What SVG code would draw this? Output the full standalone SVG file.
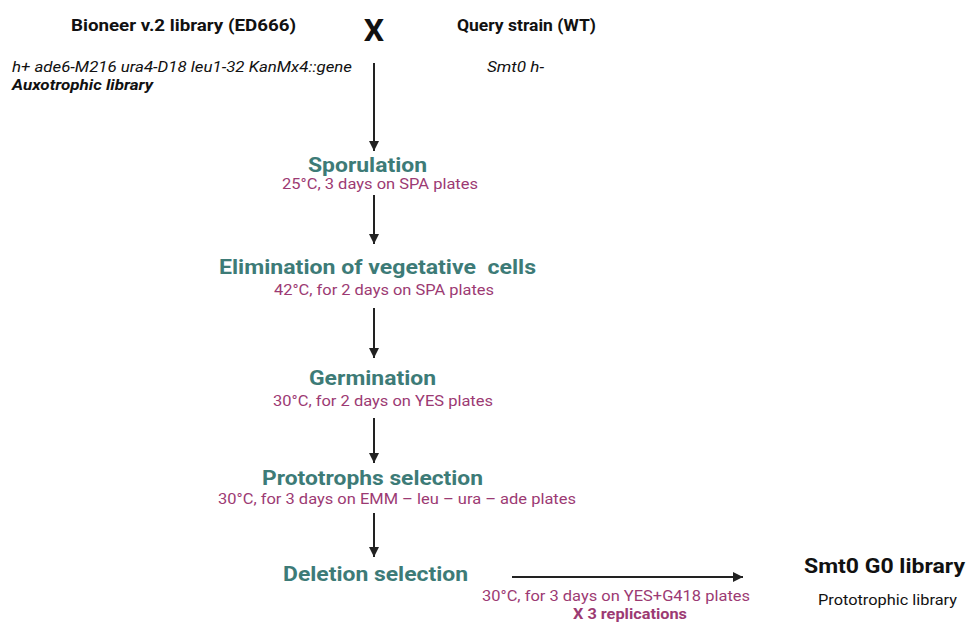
<svg xmlns="http://www.w3.org/2000/svg" width="966" height="623" viewBox="0 0 966 623">
<defs>
<marker id="ah" viewBox="0 0 10 10" refX="10" refY="5" markerWidth="5" markerHeight="5" orient="auto" markerUnits="strokeWidth">
<path d="M0,0 L10,5 L0,10 Z" fill="#222"/>
</marker>
<style>
text{font-family:Roboto,"Liberation Sans",sans-serif;white-space:pre}
.hd{font-size:17px;font-weight:bold;fill:#111;text-anchor:middle}
.it{font-size:15px;font-style:italic;fill:#111}
.st{font-size:21px;font-weight:bold;fill:#3d7b77;text-anchor:middle}
.sb{font-size:15px;fill:#9c3a73;text-anchor:middle}
.cn{stroke:#222;stroke-width:2;fill:none;marker-end:url(#ah)}
</style>
</defs>
<rect width="966" height="623" fill="#fff"/>
<g id="library">
<text class="hd" x="183.5" y="31" textLength="225" lengthAdjust="spacingAndGlyphs">Bioneer v.2 library (ED666)</text>
<text class="it" x="12" y="72" textLength="340" lengthAdjust="spacingAndGlyphs">h+ ade6-M216 ura4-D18 leu1-32 KanMx4::gene</text>
<text class="it" x="12" y="90" font-weight="bold" textLength="141" lengthAdjust="spacingAndGlyphs">Auxotrophic library</text>
</g>
<g id="cross">
<text x="374" y="41" text-anchor="middle" font-size="32" font-weight="bold" fill="#111">X</text>
</g>
<g id="query">
<text class="hd" x="526.5" y="31" textLength="139" lengthAdjust="spacingAndGlyphs">Query strain (WT)</text>
<text class="it" x="487" y="72" textLength="57" lengthAdjust="spacingAndGlyphs">Smt0 h-</text>
</g>
<g id="sporulation">
<text class="st" x="367.5" y="172" textLength="119" lengthAdjust="spacingAndGlyphs">Sporulation</text>
<text class="sb" x="380" y="189" textLength="196" lengthAdjust="spacingAndGlyphs">25°C, 3 days on SPA plates</text>
</g>
<g id="elimination">
<text class="st" x="377.5" y="274" textLength="317" lengthAdjust="spacingAndGlyphs" xml:space="preserve">Elimination of vegetative  cells</text>
<text class="sb" x="384" y="295" textLength="220" lengthAdjust="spacingAndGlyphs">42°C, for 2 days on SPA plates</text>
</g>
<g id="germination">
<text class="st" x="372.5" y="385" textLength="127" lengthAdjust="spacingAndGlyphs">Germination</text>
<text class="sb" x="383" y="406" textLength="220" lengthAdjust="spacingAndGlyphs">30°C, for 2 days on YES plates</text>
</g>
<g id="prototrophs">
<text class="st" x="372.5" y="485" textLength="221" lengthAdjust="spacingAndGlyphs">Prototrophs selection</text>
<text class="sb" x="397" y="504" textLength="358" lengthAdjust="spacingAndGlyphs">30°C, for 3 days on EMM – leu – ura – ade plates</text>
</g>
<g id="deletion">
<text class="st" x="375.5" y="581" textLength="185" lengthAdjust="spacingAndGlyphs">Deletion selection</text>
</g>
<g id="conditions">
<text class="sb" x="616" y="601" textLength="268" lengthAdjust="spacingAndGlyphs">30°C, for 3 days on YES+G418 plates</text>
<text class="sb" x="630" y="619" font-size="14" font-weight="bold" textLength="114" lengthAdjust="spacingAndGlyphs">X 3 replications</text>
</g>
<g id="result">
<text x="884.5" y="573" text-anchor="middle" font-size="21" font-weight="bold" fill="#111" textLength="161" lengthAdjust="spacingAndGlyphs">Smt0 G0 library</text>
<text x="887.5" y="605" text-anchor="middle" font-size="15" fill="#111" textLength="139" lengthAdjust="spacingAndGlyphs">Prototrophic library</text>
</g>
<g id="connectors">
<line class="cn" x1="374" y1="63" x2="374" y2="151"/>
<line class="cn" x1="374" y1="195" x2="374" y2="244"/>
<line class="cn" x1="374" y1="308" x2="374" y2="358"/>
<line class="cn" x1="374" y1="418" x2="374" y2="463"/>
<line class="cn" x1="374" y1="513" x2="374" y2="557"/>
<line class="cn" x1="512" y1="577" x2="743" y2="577"/>
</g>
</svg>
